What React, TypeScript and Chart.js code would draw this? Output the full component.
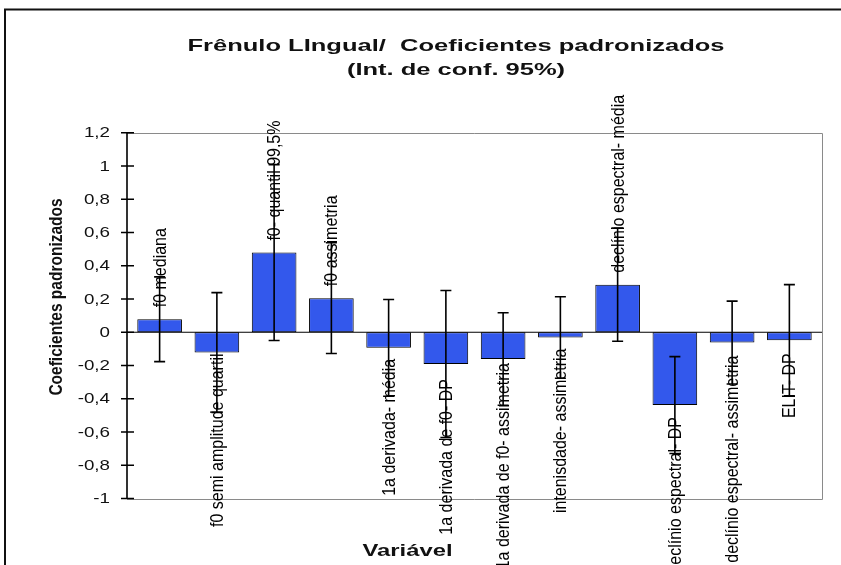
import React, { useEffect, useRef } from 'react';
import { Chart, registerables } from 'chart.js';

Chart.register(...registerables);

// Standardised coefficients with 95% confidence half-widths, one per variable
const categories = [
  'f0 mediana',
  'f0 semi amplitude quartil',
  'f0- quantil 99,5%',
  'f0 assimetria',
  '1a derivada- média',
  '1a derivada de f0- DP',
  '1a derivada de f0- assimetria',
  'intenisdade- assimetria',
  'declínio espectral- média',
  'declínio espectral- DP',
  'declínio espectral- assimetria',
  'ELIT- DP',
];
const coefficients = [0.078, -0.122, 0.479, 0.205, -0.094, -0.191, -0.161, -0.032, 0.286, -0.438, -0.062, -0.048];
const ciHalfWidths = [0.255, 0.36, 0.529, 0.333, 0.291, 0.442, 0.278, 0.245, 0.34, 0.291, 0.249, 0.334];
const yTicks = [1.2, 1, 0.8, 0.6, 0.4, 0.2, 0, -0.2, -0.4, -0.6, -0.8, -1];

const titleLines = ['Frênulo LIngual/  Coeficientes padronizados', '(Int. de conf. 95%)'];
const yAxisTitle = 'Coeficientes padronizados';
const xAxisTitle = 'Variável';

// distance (px) between each bar end and its rotated name
const labelGaps = [12, 1, 12, 12, 11, 15, 4, 11, 12, 12, 13, 13];

const FONT = '"Liberation Sans", Arial, Helvetica, sans-serif';
const BAR_BLUE = '#3358EC';
const AXIS_INSET = 4;

function fmtTick(v: number): string {
  const r = Math.round(v * 10) / 10;
  return String(r).replace('.', ',');
}

function stretchedText(
  ctx: CanvasRenderingContext2D,
  text: string,
  x: number,
  y: number,
  sx: number,
  align: CanvasTextAlign,
  baseline: CanvasTextBaseline
) {
  ctx.save();
  ctx.translate(x, y);
  ctx.scale(sx, 1);
  ctx.textAlign = align;
  ctx.textBaseline = baseline;
  ctx.fillText(text, 0, 0);
  ctx.restore();
}

// vertical text reading bottom-to-top, glyphs widened horizontally by `thick`
function rotatedText(
  ctx: CanvasRenderingContext2D,
  text: string,
  x: number,
  y: number,
  thick: number,
  align: CanvasTextAlign
) {
  ctx.save();
  ctx.translate(x, y);
  ctx.rotate(-Math.PI / 2);
  ctx.scale(1, thick);
  ctx.textAlign = align;
  ctx.textBaseline = 'middle';
  ctx.fillText(text, 0, 0);
  ctx.restore();
}

const decorPlugin = {
  id: 'decor',
  beforeDraw(chart: any) {
    const { ctx, width, height } = chart;
    ctx.save();
    ctx.fillStyle = '#ffffff';
    ctx.fillRect(0, 0, width, height);
    // chart frame
    ctx.strokeStyle = '#111111';
    ctx.lineWidth = 2;
    ctx.strokeRect(5, 9.5, width + 40, height + 40);
    ctx.restore();
  },
  afterDatasetsDraw(chart: any) {
    const { ctx, chartArea } = chart;
    const y = chart.scales.y;
    const x = chart.scales.x;
    const left = chartArea.left - AXIS_INSET;
    const right = chartArea.right + AXIS_INSET;
    const top = y.getPixelForValue(yTicks[0]);
    const bottom = y.getPixelForValue(yTicks[yTicks.length - 1]);
    const zero = y.getPixelForValue(0);

    ctx.save();
    // plot frame (top, right, bottom)
    ctx.strokeStyle = '#8a8a8a';
    ctx.lineWidth = 1;
    ctx.beginPath();
    ctx.moveTo(left, Math.round(top) + 0.5);
    ctx.lineTo(Math.round(right) + 0.5, Math.round(top) + 0.5);
    ctx.lineTo(Math.round(right) + 0.5, Math.round(bottom) + 0.5);
    ctx.lineTo(left, Math.round(bottom) + 0.5);
    ctx.stroke();

    // category axis at zero
    ctx.strokeStyle = '#000000';
    ctx.lineWidth = 1.2;
    ctx.beginPath();
    ctx.moveTo(left, zero);
    ctx.lineTo(right, zero);
    ctx.stroke();

    // value axis with crossing ticks
    ctx.lineWidth = 1.6;
    ctx.beginPath();
    ctx.moveTo(left, top);
    ctx.lineTo(left, bottom);
    yTicks.forEach((v) => {
      const py = y.getPixelForValue(v);
      ctx.moveTo(left - 6, py);
      ctx.lineTo(left + 7, py);
    });
    ctx.stroke();

    ctx.fillStyle = '#111111';
    ctx.font = `15px ${FONT}`;
    yTicks.forEach((v) => {
      stretchedText(ctx, fmtTick(v), left - 17, y.getPixelForValue(v) + 0.5, 1.25, 'right', 'middle');
    });

    // rotated variable names next to each bar
    ctx.fillStyle = '#000000';
    ctx.font = `16px ${FONT}`;
    categories.forEach((name, i) => {
      const v = coefficients[i];
      const px = x.getPixelForValue(i) + 1;
      const py = y.getPixelForValue(v);
      if (v >= 0) rotatedText(ctx, name, px, py - labelGaps[i], 1.15, 'left');
      else rotatedText(ctx, name, px, py + labelGaps[i], 1.15, 'right');
    });

    // 95% confidence intervals
    ctx.strokeStyle = '#000000';
    ctx.lineWidth = 1.6;
    coefficients.forEach((v, i) => {
      const px = x.getPixelForValue(i);
      const hi = y.getPixelForValue(v + ciHalfWidths[i]);
      const lo = y.getPixelForValue(v - ciHalfWidths[i]);
      ctx.beginPath();
      ctx.moveTo(px, hi);
      ctx.lineTo(px, lo);
      ctx.moveTo(px - 5.5, hi);
      ctx.lineTo(px + 5.5, hi);
      ctx.moveTo(px - 5.5, lo);
      ctx.lineTo(px + 5.5, lo);
      ctx.stroke();
    });

    // titles
    ctx.fillStyle = '#111111';
    ctx.font = `bold 17px ${FONT}`;
    stretchedText(ctx, titleLines[0], 456, 51, 1.5, 'center', 'alphabetic');
    stretchedText(ctx, titleLines[1], 456, 74.5, 1.5, 'center', 'alphabetic');
    stretchedText(ctx, xAxisTitle, 407.5, 556, 1.4, 'center', 'alphabetic');

    ctx.font = `bold 15.5px ${FONT}`;
    rotatedText(ctx, yAxisTitle, 57.5, 297, 1.15, 'center');

    ctx.restore();
  },
};

export default function App() {
  const canvasRef = useRef<HTMLCanvasElement | null>(null);

  useEffect(() => {
    const canvas = canvasRef.current;
    if (!canvas) return;
    const chart = new Chart(canvas, {
      type: 'bar',
      data: {
        labels: categories,
        datasets: [
          {
            data: coefficients,
            backgroundColor: BAR_BLUE,
            borderColor: '#000000',
            borderWidth: 1,
            borderSkipped: false,
            categoryPercentage: 0.78,
            barPercentage: 1,
          },
        ],
      },
      options: {
        responsive: false,
        animation: false,
        devicePixelRatio: 1,
        layout: { padding: { left: 131, right: 23, top: 132.7, bottom: 66.5 } },
        plugins: {
          legend: { display: false },
          title: { display: false },
          tooltip: { enabled: false },
        },
        scales: {
          x: { display: false, offset: true },
          y: { display: false, min: -1, max: 1.2, ticks: { stepSize: 0.2 } },
        },
      },
      plugins: [decorPlugin],
    });
    return () => chart.destroy();
  }, []);

  return (
    <div style={{ position: 'fixed', left: 0, top: 0, width: 841, height: 565, background: '#fff' }}>
      <canvas ref={canvasRef} width={841} height={565} style={{ display: 'block' }} />
    </div>
  );
}
